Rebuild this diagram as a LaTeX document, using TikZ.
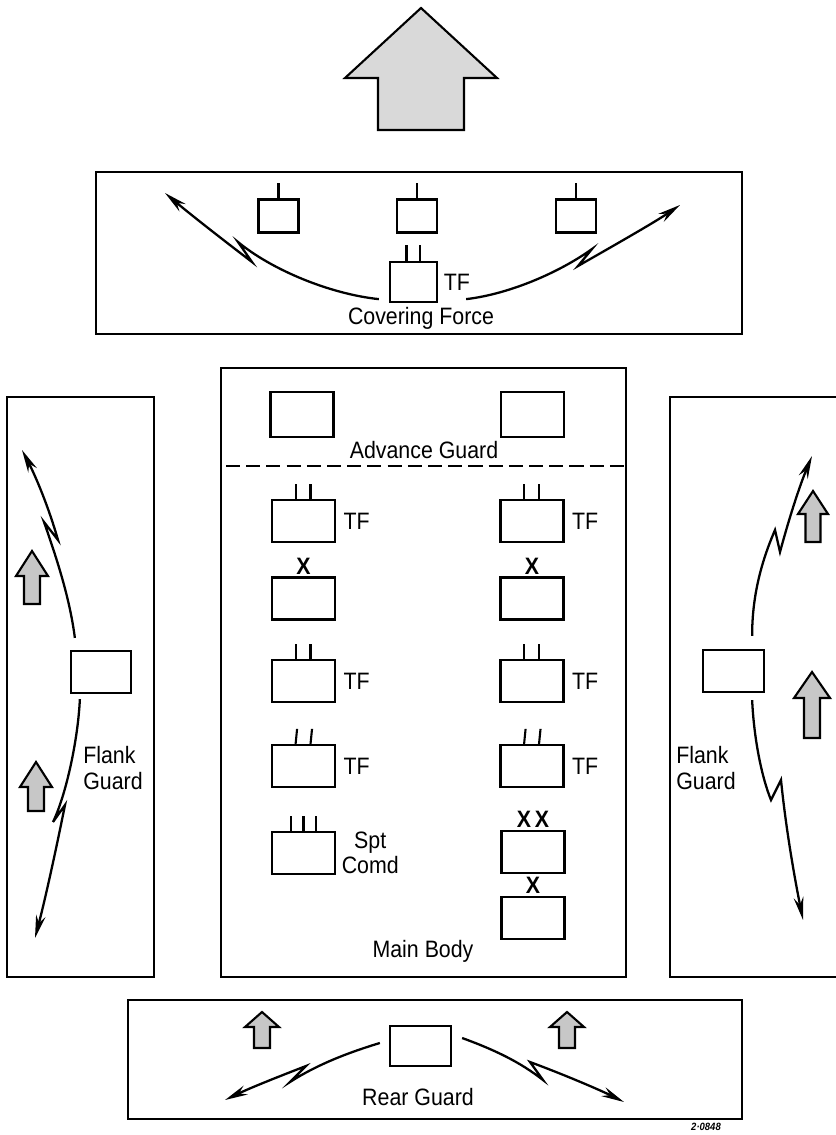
\documentclass[tikz,border=0pt]{standalone}
\usepackage{fontspec}
\setmainfont{Liberation Sans}[FakeStretch=0.9]
\usetikzlibrary{arrows.meta}

% tip x, tip y, head half width, shaft half width, head length, total length
\newcommand{\fatarrow}[7][fat]{%
  \draw[#1] (#2,#3) -- ({#2+#4},{#3+#6}) -- ({#2+#5},{#3+#6}) -- ({#2+#5},{#3+#7})
    -- ({#2-#5},{#3+#7}) -- ({#2-#5},{#3+#6}) -- ({#2-#4},{#3+#6}) -- cycle;}

\begin{document}
\begin{tikzpicture}[
    x = 0.02cm, y = -0.02cm,
    font = \fontsize{13.5}{14.5}\selectfont,
    frame/.style = {line width=1.3pt},
    unit/.style = {draw, line width=1.3pt, inner sep=0pt,
                   minimum width=1.26cm, minimum height=0.84cm},
    small/.style = {unit, minimum width=0.8cm, minimum height=0.66cm},
    stem/.style = {line width=1.2pt},
    bolt/.style = {line width=1.3pt, line join=miter,
                   -{Stealth[length=13pt, width=5.5pt]}},
    fat/.style = {line width=1.2pt, fill=black!22},
    big/.style = {line width=1.2pt, fill=black!15},
    tf/.style = {label={[label distance=3pt, inner sep=1pt]right:TF}},
    hq/.style = {label={[label distance=0pt, inner sep=1pt]above:\textbf{#1}}}
    ]
    \useasboundingbox (0,0) rectangle (835,1135);

    % main direction
    \fatarrow[big]{421}{8}{76}{43}{70}{122}

    % covering force
    \draw[frame] (96,172) rectangle (742,334);
    \node[small] (cv1) at (278.5,216) {};
    \node[small] (cv2) at (417,216) {};
    \node[small] (cv3) at (576,216) {};
    \node[small, minimum width=0.94cm, minimum height=0.8cm,
          label={[label distance=2pt, inner sep=1pt]right:TF}] (tfc) at (413.5,282) {};
    \node (cvlbl) at (421,318) {Covering Force};
    \foreach \n in {cv1,cv2,cv3}
        \draw[stem] (\n.north) -- ++(0,-15);
    \draw[stem] ([xshift=-4pt]tfc.north) -- ++(0,-16);
    \draw[stem] ([xshift=3.5pt]tfc.north) -- ++(0,-16);
    \coordinate (cvl) at (165,193);
    \coordinate (cvr) at (680,205);
    \draw[bolt] ([shift={(-10,-4)}]tfc.south west) .. controls (330,294) and (272,270) .. (238,242)
        -- (252,262) .. controls (218,236) and (190,214) .. (cvl);
    \draw[bolt] ([shift={(28,-4)}]tfc.south east) .. controls (510,294) and (560,272) .. (592,249)
        -- (578,266) .. controls (620,242) and (655,222) .. (cvr);

    % main body
    \draw[frame] (221,368) rectangle (626,977);
    \node[unit, minimum height=0.9cm] (adv1) at (302,414.5) {};
    \node[unit, minimum height=0.9cm] (adv2) at (532.5,414.5) {};
    \node (advlbl) at (424,450) {Advance Guard};
    \draw[line width=1.3pt, dash pattern=on 8pt off 3.5pt] (226,466) -- (626,466);

    \node[unit, tf] (tf1) at (303.5,521) {};
    \node[unit, tf] (tf2) at (532,521) {};
    \node[unit, hq=X] (bde1) at (303.5,598.5) {};
    \node[unit, hq=X] (bde2) at (532,598.5) {};
    \node[unit, tf] (tf3) at (303.5,681) {};
    \node[unit, tf] (tf4) at (532,681) {};
    \node[unit, tf] (tf5) at (303.5,766) {};
    \node[unit, tf] (tf6) at (532,766) {};
    \node[unit] (spt) at (303.5,853) {};
    \node[unit, hq={X\,X}] (div) at (533,852) {};
    \node[unit, hq=X] (bde3) at (533,918) {};
    \node[align=center, anchor=west, inner sep=1pt] (sptlbl) at ([xshift=2pt]spt.east) {Spt\\Comd};
    \node (mainlbl) at (423,951) {Main Body};
    \foreach \n in {tf1,tf2,tf3,tf4} {
        \draw[stem] ([xshift=-4.5pt]\n.north) -- ++(0,-15);
        \draw[stem] ([xshift=4pt]\n.north) -- ++(0,-15);
    }
    \foreach \n in {tf5,tf6} {
        \draw[stem] ([xshift=-4.5pt]\n.north) -- ++(1.5,-15);
        \draw[stem] ([xshift=4pt]\n.north) -- ++(1.5,-15);
    }
    \foreach \dx in {-7,0,7}
        \draw[stem] ([xshift=\dx pt]spt.north) -- ++(0,-15);

    % left flank guard
    \draw[frame] (7,397) rectangle (154,977);
    \node[unit, minimum width=1.2cm] (lf) at (101,672) {};
    \node[align=left] (lflbl) at (113,768) {Flank\\Guard};
    \fatarrow{32}{551}{16}{8}{25}{53}
    \fatarrow{36}{762}{16}{8}{25}{49}
    \coordinate (lfu) at (22,450);
    \coordinate (lfd) at (35,938);
    \draw[bolt] ([shift={(5,-12)}]lf.north west) .. controls (70,600) and (58,562) .. (44,522)
        -- (58,540) .. controls (48,505) and (35,475) .. (lfu);
    \draw[bolt] ([shift={(10,5)}]lf.south west) .. controls (78,740) and (66,795) .. (53,822)
        -- (65,805) .. controls (56,850) and (45,900) .. (lfd);

    % right flank guard
    \draw[frame] (845,397) -- (670,397) -- (670,977) -- (845,977);
    \node[unit, minimum width=1.22cm] (rf) at (733.5,671) {};
    \node[align=left] (rflbl) at (706,768) {Flank\\Guard};
    \fatarrow{813}{491}{15}{7.5}{23}{51}
    \fatarrow{812}{672}{18}{8}{26}{66}
    \coordinate (rfu) at (812,456);
    \coordinate (rfd) at (803,920);
    \draw[bolt] ([shift={(-13,-13)}]rf.north east) .. controls (752,595) and (762,560) .. (775,530)
        -- (780,552) .. controls (790,515) and (800,485) .. (rfu);
    \draw[bolt] ([shift={(-13,7)}]rf.south east) .. controls (754,740) and (762,778) .. (771,800)
        -- (781,780) .. controls (786,830) and (795,880) .. (rfd);

    % rear guard
    \draw[frame] (128,1000) rectangle (742,1119);
    \node[unit, minimum width=1.22cm, minimum height=0.8cm] (rg) at (420.5,1046) {};
    \node (rglbl) at (418,1097) {Rear Guard};
    \fatarrow{262}{1012}{17}{8}{15}{36}
    \fatarrow{567}{1012}{17}{8}{15}{36}
    \coordinate (rgl) at (225,1100);
    \coordinate (rgr) at (624,1102);
    \draw[bolt] ([shift={(-9,-3)}]rg.west) .. controls (350,1052) and (318,1064) .. (290,1082)
        -- (306,1066) .. controls (275,1078) and (250,1088) .. (rgl);
    \draw[bolt] ([shift={(10,-8)}]rg.east) .. controls (495,1050) and (520,1062) .. (543,1080)
        -- (530,1062) .. controls (565,1075) and (600,1090) .. (rgr);

    \node[font=\fontsize{6}{6}\selectfont\bfseries\itshape] (code) at (706,1127) {2·0848};
\end{tikzpicture}
\end{document}
